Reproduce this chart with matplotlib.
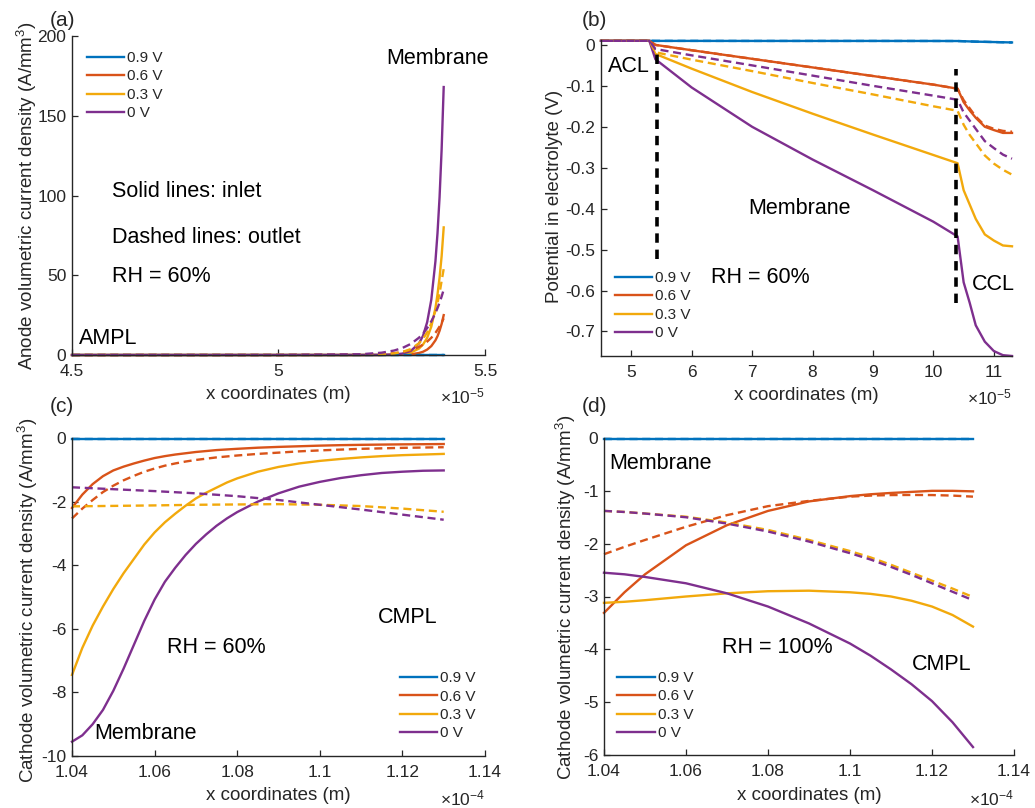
import matplotlib
matplotlib.use("Agg")
import matplotlib.pyplot as plt
from matplotlib import ticker

plt.rcParams['font.family'] = ['Liberation Sans', 'DejaVu Sans']
plt.rcParams['mathtext.fontset'] = 'custom'
plt.rcParams['mathtext.rm'] = 'Liberation Sans'
plt.rcParams['mathtext.it'] = 'Liberation Sans:italic'
plt.rcParams['axes.unicode_minus'] = False

# ---------------- data ----------------
voltages = ['0.9 V', '0.6 V', '0.3 V', '0 V']
colors = ['#0072BD', '#D95319', '#F2A90C', '#7E2F8E']

# (a) anode volumetric current density, x in 1e-5 m
xa = [4.5, 5.0, 5.2, 5.25, 5.28, 5.30, 5.32, 5.34, 5.35, 5.36, 5.37, 5.38, 5.385, 5.39, 5.395, 5.40]
a_in_09 = [0] * 16
a_in_06 = [0, 0, 0, 0.01, 0.06, 0.17, 0.46, 1.24, 2.05, 3.4, 5.6, 9.2, 11.8, 15.2, 19.5, 25]
a_in_03 = [0, 0, 0, 0.04, 0.2, 0.54, 1.5, 4.0, 6.6, 10.8, 17.8, 29.4, 38, 48.5, 62, 80]
a_in_00 = [0, 0, 0.005, 0.06, 0.31, 0.88, 2.5, 7.2, 12.1, 20.6, 34.7, 58.8, 76.4, 99, 129, 168]
a_out_09 = [0] * 16
a_out_06 = [0, 0.01, 0.12, 0.45, 1.1, 1.9, 3.0, 5.1, 6.5, 8.4, 10.8, 13.9, 15.8, 17.9, 20.3, 23]
a_out_03 = [0, 0, 0.07, 0.36, 1.0, 1.9, 3.7, 7.3, 10.2, 14.2, 19.8, 27.7, 32.8, 38.7, 46.5, 54]
a_out_00 = [0, 0.005, 0.47, 1.45, 2.8, 4.4, 6.9, 10.8, 13.5, 16.9, 21.1, 26.3, 29.4, 32.8, 36.7, 41]

# (b) potential in electrolyte, x in 1e-5 m
xb = [4.5, 5.3, 5.4, 6, 7, 8, 9, 10, 10.4, 10.5, 10.6, 10.7, 10.85, 11.0, 11.15, 11.3]
b_in_09 = [0.01, 0.01, 0.0098, 0.0098, 0.0097, 0.0097, 0.0097, 0.0096, 0.0095, 0.009, 0.0085, 0.008, 0.0075, 0.007, 0.0065, 0.006]
b_in_06 = [0.01, 0.01, 0.0, -0.013, -0.034, -0.055, -0.076, -0.097, -0.107, -0.14, -0.16, -0.178, -0.2, -0.208, -0.215, -0.215]
b_in_03 = [0.01, 0.01, -0.022, -0.058, -0.115, -0.168, -0.219, -0.269, -0.289, -0.355, -0.39, -0.425, -0.463, -0.478, -0.49, -0.492]
b_in_00 = [0.01, 0.01, -0.035, -0.104, -0.2, -0.28, -0.355, -0.432, -0.468, -0.58, -0.63, -0.685, -0.725, -0.748, -0.758, -0.76]
b_out_09 = b_in_09
b_out_06 = [0.01, 0.01, 0.0, -0.013, -0.034, -0.055, -0.076, -0.097, -0.107, -0.135, -0.155, -0.175, -0.197, -0.205, -0.21, -0.212]
b_out_03 = [0.01, 0.01, -0.018, -0.036, -0.064, -0.093, -0.121, -0.15, -0.161, -0.195, -0.22, -0.24, -0.27, -0.29, -0.305, -0.317]
b_out_00 = [0.01, 0.01, -0.01, -0.0255, -0.05, -0.075, -0.1, -0.124, -0.134, -0.165, -0.185, -0.205, -0.235, -0.252, -0.268, -0.278]
b_bound_x = [5.42, 10.38]
b_bound_top = [-0.007, -0.06]
b_bound_bottom = [-0.524, -0.63]

# (c) cathode volumetric current density, RH 60 %, x in 1e-4 m
xc = [1.04, 1.0425, 1.045, 1.0475, 1.05, 1.0525, 1.055, 1.0575, 1.06, 1.0625, 1.065,
      1.0675, 1.07, 1.0725, 1.075, 1.0775, 1.08, 1.085, 1.09, 1.095, 1.10, 1.105,
      1.11, 1.115, 1.12, 1.125, 1.13]
c_in_09 = [-0.02] * 27
c_in_06 = [-2.2, -1.78, -1.45, -1.2, -1.02, -0.9, -0.8, -0.71, -0.63, -0.57, -0.52,
           -0.48, -0.44, -0.41, -0.38, -0.36, -0.34, -0.305, -0.28, -0.26, -0.24, -0.225,
           -0.215, -0.207, -0.2, -0.195, -0.19]
c_in_03 = [-7.45, -6.6, -5.9, -5.3, -4.75, -4.25, -3.8, -3.35, -2.97, -2.65, -2.38,
           -2.13, -1.9, -1.72, -1.56, -1.4, -1.27, -1.06, -0.91, -0.8, -0.72, -0.66,
           -0.61, -0.57, -0.54, -0.52, -0.5]
c_in_00 = [-9.55, -9.35, -9.0, -8.55, -7.95, -7.25, -6.5, -5.75, -5.08, -4.52, -4.08,
           -3.68, -3.33, -3.03, -2.76, -2.53, -2.33, -2.0, -1.74, -1.53, -1.38, -1.26,
           -1.17, -1.1, -1.06, -1.03, -1.02]
c_out_06 = [-2.53, -2.22, -1.95, -1.7, -1.5, -1.33, -1.19, -1.06, -0.96, -0.87, -0.8,
            -0.74, -0.69, -0.65, -0.61, -0.58, -0.55, -0.5, -0.46, -0.42, -0.39, -0.365,
            -0.34, -0.325, -0.31, -0.3, -0.29]
xc_flat = [1.04, 1.05, 1.06, 1.07, 1.08, 1.09, 1.10, 1.11, 1.12, 1.13]
c_out_09 = [-0.02] * 10
c_out_03 = [-2.15, -2.135, -2.12, -2.1, -2.09, -2.08, -2.1, -2.14, -2.22, -2.32]
c_out_00 = [-1.55, -1.61, -1.67, -1.74, -1.83, -1.95, -2.1, -2.25, -2.41, -2.57]

# (d) cathode volumetric current density, RH 100 %, x in 1e-4 m
xd = [1.04, 1.045, 1.05, 1.06, 1.07, 1.08, 1.09, 1.10, 1.105, 1.11, 1.115, 1.12, 1.125, 1.13]
d_in_09 = [-0.01] * 14
d_in_06 = [-3.31, -2.92, -2.58, -2.03, -1.65, -1.38, -1.2, -1.1, -1.065, -1.04, -1.02, -1.0, -1.0, -1.01]
d_in_03 = [-3.12, -3.1, -3.07, -3.0, -2.94, -2.9, -2.89, -2.92, -2.95, -3.0, -3.08, -3.19, -3.35, -3.57]
d_in_00 = [-2.55, -2.58, -2.63, -2.75, -2.94, -3.19, -3.51, -3.89, -4.12, -4.38, -4.66, -4.98, -5.38, -5.85]
d_out_09 = [-0.01] * 14
d_out_06 = [-2.2, -2.06, -1.93, -1.68, -1.46, -1.29, -1.19, -1.11, -1.09, -1.08, -1.078, -1.08, -1.09, -1.11]
d_out_03 = [-1.38, -1.4, -1.43, -1.49, -1.6, -1.74, -1.93, -2.14, -2.26, -2.4, -2.55, -2.7, -2.85, -3.01]
d_out_00 = [-1.38, -1.4, -1.43, -1.5, -1.62, -1.77, -1.96, -2.18, -2.3, -2.44, -2.59, -2.75, -2.91, -3.07]

# ---------------- figure ----------------
W, H = 1035, 808
fig = plt.figure(figsize=(W / 100, H / 100), dpi=100)
TXT = '#262626'
LW = 1.7
DASH = (0, (3.4, 2.0))


def px_axes(l, t, r, b):
    return fig.add_axes([l / W, 1 - b / H, (r - l) / W, (b - t) / H])


ax_a = px_axes(72, 36, 485, 355)
ax_b = px_axes(601, 40, 1012, 356)
ax_c = px_axes(72, 438, 485, 756)
ax_d = px_axes(604, 438, 1014, 755)

fmt = ticker.FuncFormatter(lambda v, p: f'{v:g}')


def style(ax):
    for s in ['top', 'right']:
        ax.spines[s].set_visible(False)
    for s in ['left', 'bottom']:
        ax.spines[s].set_color(TXT)
        ax.spines[s].set_linewidth(1.0)
    ax.tick_params(direction='in', length=4, width=0.9, colors=TXT,
                   labelsize=12.5)
    ax.tick_params(axis='x', pad=6.5)
    ax.tick_params(axis='y', pad=4)
    ax.xaxis.set_major_formatter(fmt)
    ax.yaxis.set_major_formatter(fmt)


def draw(ax, solids, dashes):
    handles = []
    for (x, y), c in zip(solids, colors):
        h, = ax.plot(x, y, color=c, lw=LW, clip_on=False)
        handles.append(h)
    for (x, y), c in zip(dashes, colors):
        ax.plot(x, y, color=c, lw=LW, ls=DASH, clip_on=False)
    return handles


def legend(ax, handles, x, y):
    ax.legend(handles, voltages, loc='upper left', bbox_to_anchor=(x, y),
              frameon=False, fontsize=11, handlelength=2.45, handletextpad=0.2,
              labelspacing=0.29, borderaxespad=0, borderpad=0, labelcolor=TXT)


def labels(ax, ylabel, mult, ylx, yly, xly, mly):
    ax.set_xlabel('x coordinates (m)', fontsize=13.5, color=TXT)
    ax.xaxis.label.set_va('center')
    ax.xaxis.set_label_coords(0.5, xly)
    ax.set_ylabel(ylabel, fontsize=13.5, color=TXT)
    ax.yaxis.label.set_va('center')
    ax.yaxis.set_label_coords(ylx, yly)
    ax.text(1.0, mly, mult, transform=ax.transAxes, ha='right', va='center',
            fontsize=12.5, color=TXT)


ANN = 15.5

# (a)
h = draw(ax_a, [(xa, a_in_09), (xa, a_in_06), (xa, a_in_03), (xa, a_in_00)],
         [(xa, a_out_09), (xa, a_out_06), (xa, a_out_03), (xa, a_out_00)])
style(ax_a)
ax_a.set_xlim(4.5, 5.5)
ax_a.set_ylim(0, 200)
ax_a.set_xticks([4.5, 5, 5.5])
ax_a.set_yticks([0, 50, 100, 150, 200])
legend(ax_a, h, 0.036, 0.953)
labels(ax_a, 'Anode volumetric current density (A/mm$^3$)', r'$\times10^{-5}$',
       -0.108, 0.5, -0.124, -0.13)
ax_a.text(0.886, 0.931, 'Membrane', transform=ax_a.transAxes, ha='center', va='center', fontsize=ANN)
ax_a.text(0.097, 0.514, 'Solid lines: inlet', transform=ax_a.transAxes, ha='left', va='center', fontsize=ANN)
ax_a.text(0.097, 0.367, 'Dashed lines: outlet', transform=ax_a.transAxes, ha='left', va='center', fontsize=ANN)
ax_a.text(0.097, 0.245, 'RH = 60%', transform=ax_a.transAxes, ha='left', va='center', fontsize=ANN)
ax_a.text(0.017, 0.053, 'AMPL', transform=ax_a.transAxes, ha='left', va='center', fontsize=ANN)

# (b)
h = draw(ax_b, [(xb, b_in_09), (xb, b_in_06), (xb, b_in_03), (xb, b_in_00)],
         [(xb, b_out_09), (xb, b_out_06), (xb, b_out_03), (xb, b_out_00)])
ax_b.vlines(b_bound_x, b_bound_bottom, b_bound_top, colors='k', lw=2.6,
            linestyles=[(0, (2.6, 1.9))])
style(ax_b)
ax_b.set_xlim(4.5, 11.3)
ax_b.set_ylim(-0.76, 0.012)
ax_b.set_xticks([5, 6, 7, 8, 9, 10, 11])
ax_b.set_yticks([-0.7, -0.6, -0.5, -0.4, -0.3, -0.2, -0.1, 0])
legend(ax_b, h, 0.034, 0.269)
labels(ax_b, 'Potential in electrolyte (V)', r'$\times10^{-5}$',
       -0.112, 0.506, -0.125, -0.13)
ax_b.text(0.017, 0.915, 'ACL', transform=ax_b.transAxes, ha='left', va='center', fontsize=ANN)
ax_b.text(0.484, 0.468, 'Membrane', transform=ax_b.transAxes, ha='center', va='center', fontsize=ANN)
ax_b.text(0.387, 0.247, 'RH = 60%', transform=ax_b.transAxes, ha='center', va='center', fontsize=ANN)
ax_b.text(0.954, 0.225, 'CCL', transform=ax_b.transAxes, ha='center', va='center', fontsize=ANN)

# (c)
h = draw(ax_c, [(xc, c_in_09), (xc, c_in_06), (xc, c_in_03), (xc, c_in_00)],
         [(xc_flat, c_out_09), (xc, c_out_06), (xc_flat, c_out_03), (xc_flat, c_out_00)])
style(ax_c)
ax_c.set_xlim(1.04, 1.14)
ax_c.set_ylim(-10, 0)
ax_c.set_xticks([1.04, 1.06, 1.08, 1.10, 1.12, 1.14])
ax_c.set_yticks([-10, -8, -6, -4, -2, 0])
legend(ax_c, h, 0.794, 0.267)
labels(ax_c, 'Cathode volumetric current density (A/mm$^3$)', r'$\times10^{-4}$',
       -0.107, 0.49, -0.124, -0.133)
ax_c.text(0.814, 0.437, 'CMPL', transform=ax_c.transAxes, ha='center', va='center', fontsize=ANN)
ax_c.text(0.349, 0.34, 'RH = 60%', transform=ax_c.transAxes, ha='center', va='center', fontsize=ANN)
ax_c.text(0.179, 0.072, 'Membrane', transform=ax_c.transAxes, ha='center', va='center', fontsize=ANN)

# (d)
h = draw(ax_d, [(xd, d_in_09), (xd, d_in_06), (xd, d_in_03), (xd, d_in_00)],
         [(xd, d_out_09), (xd, d_out_06), (xd, d_out_03), (xd, d_out_00)])
style(ax_d)
ax_d.set_xlim(1.04, 1.14)
ax_d.set_ylim(-6, 0)
ax_d.set_xticks([1.04, 1.06, 1.08, 1.10, 1.12, 1.14])
ax_d.set_yticks([-6, -5, -4, -3, -2, -1, 0])
legend(ax_d, h, 0.032, 0.265)
labels(ax_d, 'Cathode volumetric current density (A/mm$^3$)', r'$\times10^{-4}$',
       -0.092, 0.497, -0.127, -0.136)
ax_d.text(0.137, 0.921, 'Membrane', transform=ax_d.transAxes, ha='center', va='center', fontsize=ANN)
ax_d.text(0.422, 0.338, 'RH = 100%', transform=ax_d.transAxes, ha='center', va='center', fontsize=ANN)
ax_d.text(0.824, 0.284, 'CMPL', transform=ax_d.transAxes, ha='center', va='center', fontsize=ANN)

# panel letters
for lab, (px, py) in zip(['(a)', '(b)', '(c)', '(d)'],
                         [(50, 20), (582, 20), (50, 407), (582, 407)]):
    fig.text(px / W, 1 - py / H, lab, ha='left', va='center', fontsize=15, color=TXT)

fig.savefig('out.png', dpi=100)
